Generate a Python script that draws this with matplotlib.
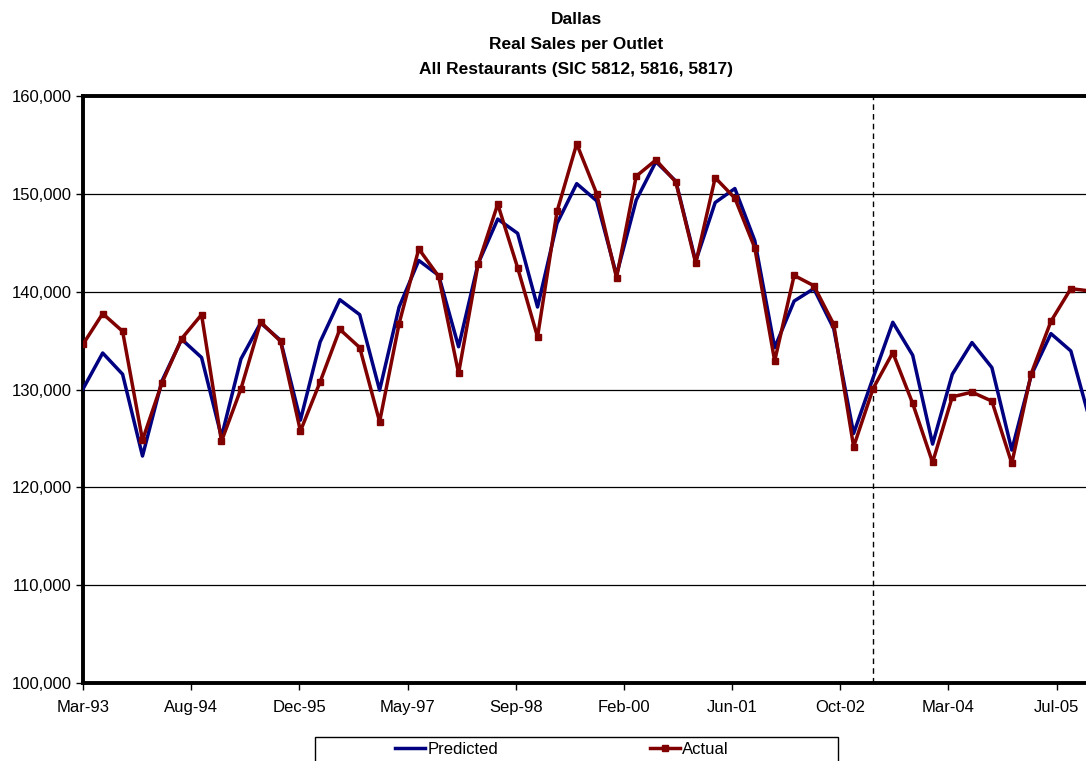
import numpy as np
import pandas as pd
import matplotlib
matplotlib.use('agg')
import matplotlib.pyplot as plt
import matplotlib.dates as mdates
import matplotlib.ticker as mticker
from matplotlib.patches import Rectangle

plt.rcParams['font.family'] = ['Liberation Sans', 'DejaVu Sans']

# quarterly series, Mar-93 .. Dec-05
quarters = pd.date_range('1993-03-31', periods=52, freq=pd.offsets.QuarterEnd())

predicted = [130060, 133730, 131560, 123200, 130880, 135130, 133270, 125160,
             133120, 136800, 135030, 126870, 134860, 139180, 137650, 129930,
             138430, 143190, 141660, 134370, 142850, 147420, 145960, 138430,
             146980, 151040, 149290, 141700, 149360, 153280, 151300, 143110,
             149110, 150540, 145220, 134280, 139040, 140310, 136220, 125510,
             131200, 136870, 133500, 124420, 131560, 134800, 132240, 123810,
             131470, 135710, 133940, 126530]

actual = [134620, 137760, 135950, 124830, 130670, 135200, 137650, 124700,
          130060, 136900, 134930, 125750, 130780, 136150, 134290, 126700,
          136730, 144370, 141560, 131660, 142780, 148950, 142440, 135380,
          148200, 155110, 150030, 141420, 151800, 153460, 151220, 142910,
          151650, 149560, 144480, 132920, 141660, 140610, 136660, 124150,
          130100, 133770, 128570, 122550, 129250, 129730, 128810, 122450,
          131630, 136970, 140310, 140060]

forecast_start = pd.Timestamp('2003-03-31')
x_start = pd.Timestamp('1993-03-31')
x_end = pd.Timestamp('2006-01-15')

title_lines = ['Dallas', 'Real Sales per Outlet', 'All Restaurants (SIC 5812, 5816, 5817)']

fig = plt.figure(figsize=(10.86, 7.61), dpi=100)
W, H = 1086, 761
ax = fig.add_axes([83 / W, 1 - 683 / H, (1094 - 83) / W, (683 - 96) / H])

ax.plot(quarters, predicted, color='#000080', lw=2.5, label='Predicted', zorder=3)
ax.plot(quarters, actual, color='#800000', lw=2.5, marker='s', ms=5,
        label='Actual', zorder=4)
ax.axvline(forecast_start, color='black', lw=1, ls=(0, (4, 3)), zorder=2)

ax.set_xlim(x_start, x_end)
ax.set_ylim(100000, 160000)
ax.yaxis.set_major_locator(mticker.MultipleLocator(10000))
ax.yaxis.set_major_formatter(mticker.FuncFormatter(lambda v, p: f'{v:,.0f}'))

ticks = [x_start + pd.Timedelta(days=500 * k) for k in range(10)]
ax.set_xticks(ticks)
ax.xaxis.set_major_formatter(mdates.DateFormatter('%b-%y'))

ax.grid(axis='y', color='black', lw=0.9)
ax.set_axisbelow(True)
for s in ['top', 'bottom', 'left', 'right']:
    ax.spines[s].set_linewidth(2.8)
    ax.spines[s].set_color('black')
ax.tick_params(axis='both', direction='out', length=5, width=1, labelsize=12,
               colors='black')
ax.tick_params(axis='x', pad=7)
ax.tick_params(axis='y', pad=3)

fig.text(576 / W, 1 - 12 / H, '\n'.join(title_lines), ha='center', va='top',
         fontsize=12.5, fontweight='bold', linespacing=1.84)

# legend box sitting below the axis, cut by the bottom edge
handles, labels = ax.get_legend_handles_labels()
fig.legend(handles, labels, loc='center left', bbox_to_anchor=(395 / W, 1 - 749 / H),
           ncol=2, frameon=False, fontsize=12, handlelength=1.8,
           handletextpad=0.15, columnspacing=9.1, borderpad=0, borderaxespad=0)
fig.add_artist(Rectangle((315 / W, -0.02), (838 - 315) / W, 0.02 + 24 / H,
                         transform=fig.transFigure, fill=False,
                         edgecolor='black', lw=1))

fig.savefig('out.png', dpi=100)
